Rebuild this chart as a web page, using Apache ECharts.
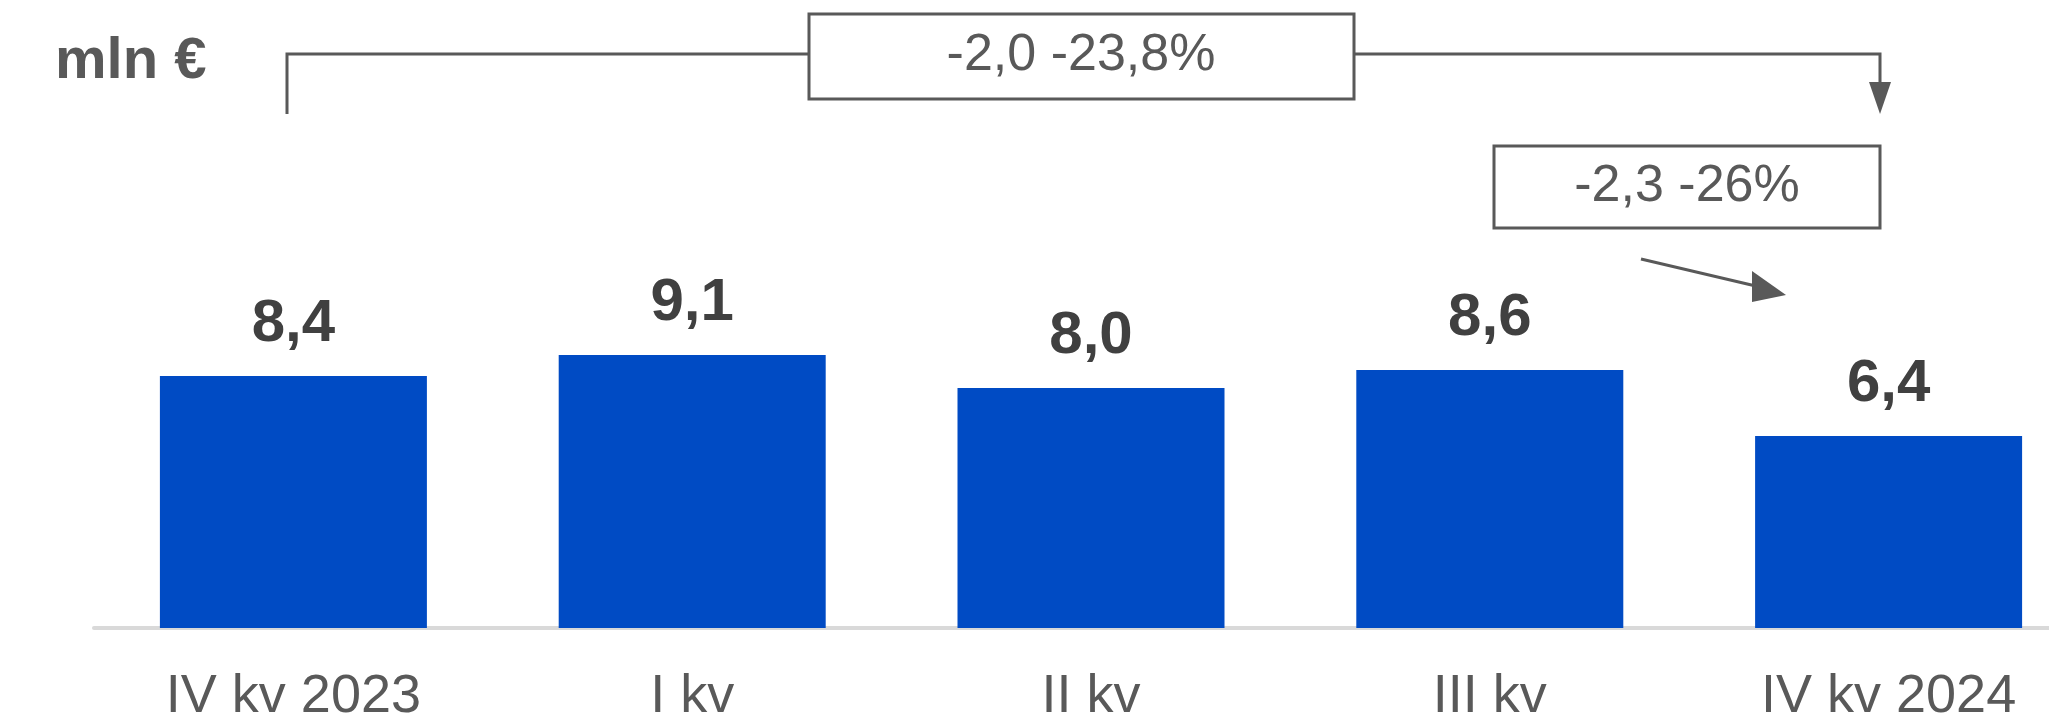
<!DOCTYPE html>
<html>
<head>
<meta charset="utf-8">
<script src="https://cdn.jsdelivr.net/npm/echarts@6/dist/echarts.min.js"></script>
<style>
    html, body { margin: 0; padding: 0; background: #fff; }
    #chart_quarters { width: 2049px; height: 718px; }
</style>
</head>
<body>
<div id="chart_quarters"></div>
<script>
// 数据
const categories = ['IV kv 2023', 'I kv', 'II kv', 'III kv', 'IV kv 2024'];
const values = [8.4, 9.1, 8.0, 8.6, 6.4];
const unitLabel = 'mln €';
const changeYear = '-2,0 -23,8%';
const changeQuarter = '-2,3 -26%';

const FONT = '"Liberation Sans", Arial, sans-serif';
const GRAY = '#595959';
const LINE = '#595959';

let chart = echarts.init(document.getElementById('chart_quarters'), null, { renderer: 'canvas' });

let option = {
    backgroundColor: '#fff',
    animation: false,
    grid: { left: 94, width: 1994, top: 328, bottom: 90, containLabel: false, outerBoundsMode: 'none' },
    xAxis: {
        type: 'category',
        data: categories,
        axisTick: { show: false },
        axisLine: { lineStyle: { color: '#d9d9d9', width: 4 } },
        axisLabel: {
            color: GRAY,
            fontFamily: FONT,
            fontSize: 54,
            margin: 42
        }
    },
    yAxis: {
        type: 'value',
        min: 0,
        max: 10,
        show: false,
        splitLine: { show: false }
    },
    series: [
        {
            type: 'bar',
            data: values,
            barWidth: 267,
            itemStyle: { color: '#004bc4' },
            label: {
                show: true,
                position: 'top',
                distance: 22,
                color: '#404040',
                fontFamily: FONT,
                fontWeight: 'bold',
                fontSize: 60,
                formatter: p => p.value.toFixed(1).replace('.', ',')
            }
        }
    ],
    graphic: [
        // 单位
        {
            type: 'text', left: 55, top: 33,
            style: { text: unitLabel, fill: GRAY, font: 'bold 58px ' + FONT }
        },
        // 年度变化括号
        {
            type: 'polyline',
            shape: { points: [[287, 114], [287, 54], [809, 54]] },
            style: { stroke: LINE, lineWidth: 3, fill: null }
        },
        {
            type: 'polyline',
            shape: { points: [[1354, 54], [1880, 54], [1880, 90]] },
            style: { stroke: LINE, lineWidth: 3, fill: null }
        },
        {
            type: 'polygon',
            shape: { points: [[1869, 82], [1891, 82], [1880, 114]] },
            style: { fill: LINE }
        },
        {
            type: 'rect',
            shape: { x: 809, y: 14, width: 545, height: 85 },
            style: { fill: '#fff', stroke: LINE, lineWidth: 3 }
        },
        {
            type: 'text', x: 1081, y: 56,
            style: { text: changeYear, fill: GRAY, font: '52px ' + FONT, align: 'center', verticalAlign: 'middle' }
        },
        // 季度变化
        {
            type: 'rect',
            shape: { x: 1494, y: 146, width: 386, height: 82 },
            style: { fill: '#fff', stroke: LINE, lineWidth: 3 }
        },
        {
            type: 'text', x: 1687, y: 187,
            style: { text: changeQuarter, fill: GRAY, font: '52px ' + FONT, align: 'center', verticalAlign: 'middle' }
        },
        {
            type: 'line',
            shape: { x1: 1641, y1: 259, x2: 1760, y2: 287 },
            style: { stroke: LINE, lineWidth: 3 }
        },
        {
            type: 'polygon',
            shape: { points: [[1752, 271], [1786, 295], [1752, 302]] },
            style: { fill: LINE }
        }
    ]
};

chart.setOption(option);
</script>
</body>
</html>
